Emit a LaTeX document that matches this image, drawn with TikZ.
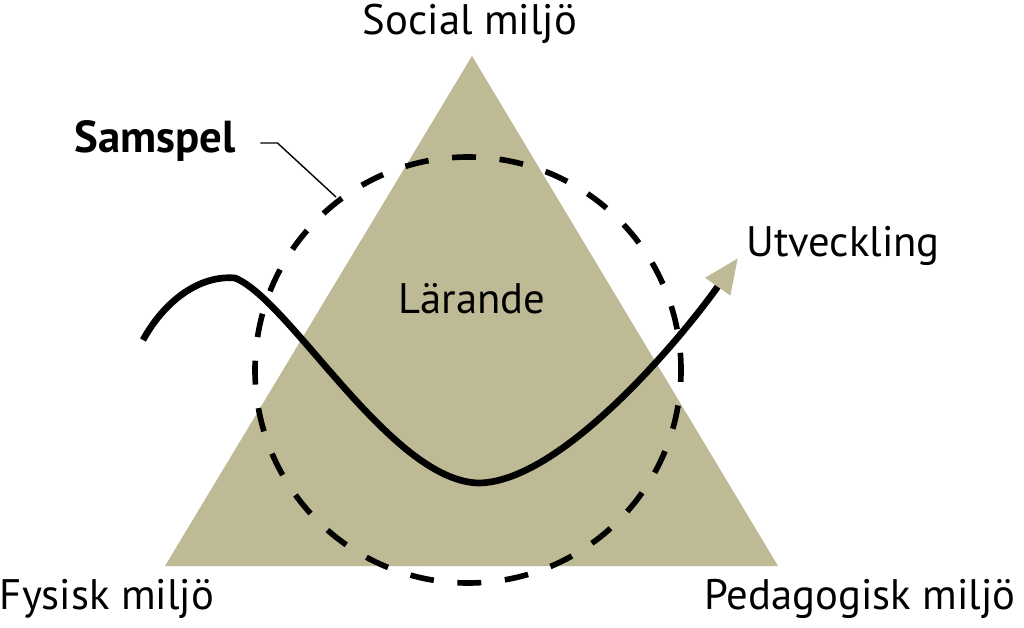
\documentclass[tikz,border=0pt]{standalone}
\usepackage{fontspec}
\setmainfont{PT Sans}
\usetikzlibrary{arrows.meta}

\definecolor{khaki}{RGB}{191,186,150}

\begin{document}
\begin{tikzpicture}[x=0.02cm, y=-0.02cm,
    place/.style={font=\fontsize{24.3}{29}\selectfont, anchor=base, inner sep=0pt},
    ring/.style={line width=3.2pt, dash pattern=on 13.6pt off 13.5pt, dash phase=6.8pt},
    wave/.style={line width=3.8pt, -{Triangle[length=20pt, width=16.5pt, color=khaki]}},
    leader/.style={line width=0.8pt}]

    \useasboundingbox (0,0) rectangle (1024,628);

    % ==========================================
    % 1. TRIANGLE
    % ==========================================
    \fill[khaki] (472,56) -- (778,566) -- (165,566) -- cycle;

    % ==========================================
    % 2. SAMSPEL CIRCLE
    % ==========================================
    \draw[ring] (468,370) circle [radius=213];

    % ==========================================
    % 3. LEARNING CURVE
    % ==========================================
    \draw[wave] (143,340) .. controls (165,300) and (200,275) .. (235,278)
        .. controls (290,300) and (390,480) .. (478,483)
        .. controls (560,483) and (680,340) .. (738,258);

    % ==========================================
    % 4. LABELS
    % ==========================================
    \node[place] (social) at (470,35) {Social miljö};
    \node[place] (fysisk) at (107,609) {Fysisk miljö};
    \node[place] (pedagogisk) at (860,609) {Pedagogisk miljö};
    \node[place] (larande) at (472,313) {Lärande};
    \node[place] (utveckling) at (843,256) {Utveckling};
    \node[place, font=\fontsize{25.5}{30}\selectfont\bfseries] (samspel) at (155,153) {Samspel};

    % leader from Samspel to the circle
    \coordinate (samspelpin) at (336,197);
    \draw[leader] ([xshift=14pt, yshift=5.7pt]samspel.base east) -- ++(17,0) -- (samspelpin);

\end{tikzpicture}
\end{document}
